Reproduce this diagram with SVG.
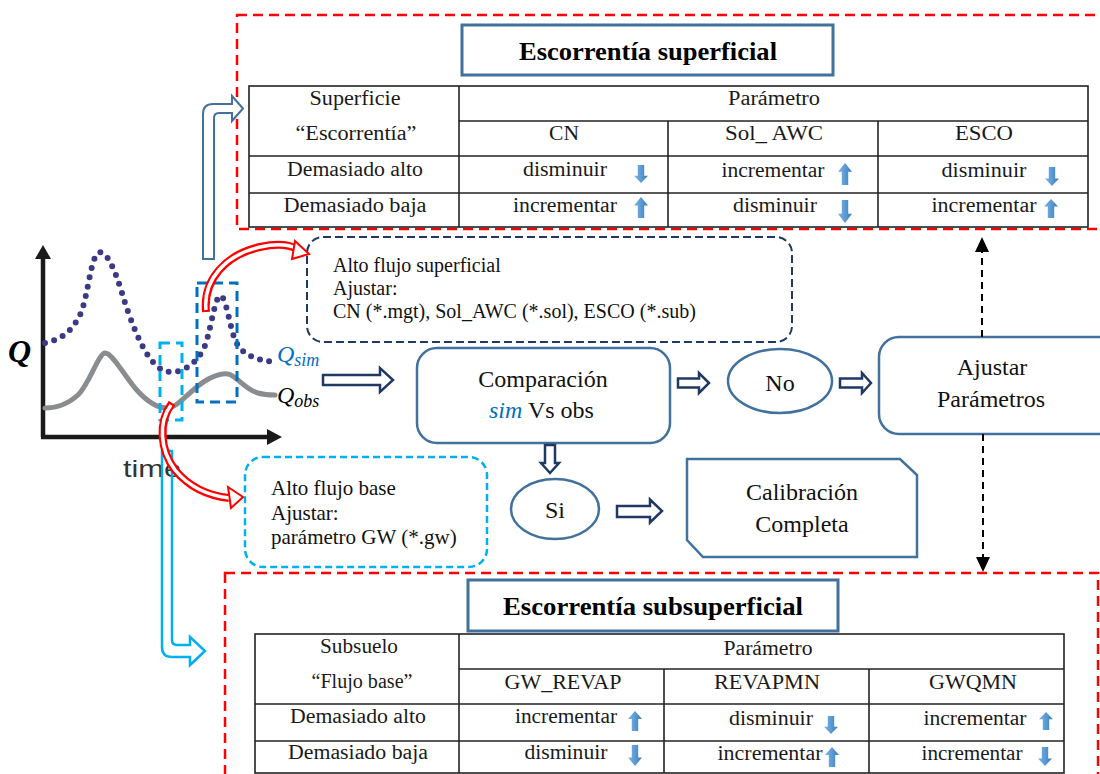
<svg xmlns="http://www.w3.org/2000/svg" width="1100" height="774" viewBox="0 0 1100 774">
  <defs>
    <style>
      .serif { font-family: "Liberation Serif", "Times New Roman", serif; fill: #111; }
      .cell { font-family: "Liberation Serif", "Times New Roman", serif; font-size: 20px; fill: #1a1a1a; text-anchor: middle; }
      .big { font-family: "Liberation Serif", "Times New Roman", serif; font-size: 24px; fill: #111; text-anchor: middle; }
      .title { font-family: "Liberation Serif", "Times New Roman", serif; font-size: 25px; font-weight: bold; fill: #000; text-anchor: middle; }
      .note { font-family: "Liberation Serif", "Times New Roman", serif; fill: #111; }
      .grid { stroke: #222; stroke-width: 1.6; fill: none; }
      .redbox { fill: none; stroke: #ff0000; stroke-width: 2.5; stroke-dasharray: 10 6; }
      .node { fill: #fff; stroke: #41719c; stroke-width: 2.5; }
      .titlebox { fill: #fff; stroke: #41719c; stroke-width: 3; }
      .flow { fill: #fff; stroke: #1f3864; stroke-width: 2.5; stroke-linejoin: miter; }
      .link { stroke: #000; stroke-width: 2; stroke-dasharray: 7 5; fill: none; }
      .redA { fill: none; stroke: #ff0000; stroke-width: 8; }
      .redB { fill: none; stroke: #fff; stroke-width: 3.5; }
      .redHead { fill: #fff; stroke: #ff0000; stroke-width: 2; stroke-linejoin: miter; }
    </style>
    <linearGradient id="blueGrad" x1="0" y1="0" x2="1" y2="0">
      <stop offset="0" stop-color="#7fb2e0"/>
      <stop offset="0.5" stop-color="#5b9bd5"/>
      <stop offset="1" stop-color="#3a78b8"/>
    </linearGradient>
    <path id="upArrow" d="M0,0 L7,8 L3.2,8 L3.2,20 L-3.2,20 L-3.2,8 L-7,8 Z" fill="url(#blueGrad)"/>
  </defs>

  <rect width="1100" height="774" fill="#fff"/>

  <!-- Red dashed frames -->
  <rect class="redbox" x="237" y="15" width="875" height="214"/>
  <rect class="redbox" x="225" y="573" width="873" height="220"/>

  <!-- Surface runoff panel -->
  <g id="surface-title">
    <rect class="titlebox" x="462" y="25" width="371" height="50"/>
    <text class="title" x="648" y="60" textLength="258" lengthAdjust="spacingAndGlyphs">Escorrentía superficial</text>
  </g>
  <g id="surface-table">
    <rect class="grid" x="249" y="86" width="839" height="141"/>
    <line class="grid" x1="459" y1="86" x2="459" y2="227"/>
    <line class="grid" x1="459" y1="121" x2="1088" y2="121"/>
    <line class="grid" x1="249" y1="156" x2="1088" y2="156"/>
    <line class="grid" x1="249" y1="193" x2="1088" y2="193"/>
    <line class="grid" x1="668" y1="121" x2="668" y2="227"/>
    <line class="grid" x1="878" y1="121" x2="878" y2="227"/>
    <text class="cell" x="355" y="105" textLength="91" lengthAdjust="spacingAndGlyphs">Superficie</text>
    <text class="cell" x="356" y="140" textLength="121" lengthAdjust="spacingAndGlyphs">“Escorrentía”</text>
    <text class="cell" x="774" y="105" textLength="92" lengthAdjust="spacingAndGlyphs">Parámetro</text>
    <text class="cell" x="564" y="140" textLength="30" lengthAdjust="spacingAndGlyphs">CN</text>
    <text class="cell" x="774" y="140" textLength="98" lengthAdjust="spacingAndGlyphs">Sol_ AWC</text>
    <text class="cell" x="984" y="140" textLength="58" lengthAdjust="spacingAndGlyphs">ESCO</text>
    <text class="cell" x="355" y="176" textLength="136" lengthAdjust="spacingAndGlyphs">Demasiado alto</text>
    <text class="cell" x="355" y="212" textLength="143" lengthAdjust="spacingAndGlyphs">Demasiado baja</text>
    <text class="cell" x="565" y="176" textLength="84" lengthAdjust="spacingAndGlyphs">disminuir</text>
    <text class="cell" x="565" y="212" textLength="104" lengthAdjust="spacingAndGlyphs">incrementar</text>
    <text class="cell" x="773" y="177" textLength="103" lengthAdjust="spacingAndGlyphs">incrementar</text>
    <text class="cell" x="775" y="212" textLength="84" lengthAdjust="spacingAndGlyphs">disminuir</text>
    <text class="cell" x="984" y="177" textLength="85" lengthAdjust="spacingAndGlyphs">disminuir</text>
    <text class="cell" x="984" y="212" textLength="105" lengthAdjust="spacingAndGlyphs">incrementar</text>
    <use href="#upArrow" transform="translate(641,183) scale(1,-0.9)"/>
    <use href="#upArrow" transform="translate(641,197) scale(1,1.05)"/>
    <use href="#upArrow" transform="translate(845,163) scale(1,1.1)"/>
    <use href="#upArrow" transform="translate(845,223) scale(1,-1.15)"/>
    <use href="#upArrow" transform="translate(1052,186) scale(1,-0.95)"/>
    <use href="#upArrow" transform="translate(1051,199) scale(1,0.95)"/>
  </g>

  <!-- Subsurface panel -->
  <g id="subsurface-title">
    <rect class="titlebox" x="468" y="580" width="370" height="51"/>
    <text class="title" x="653" y="615" textLength="300" lengthAdjust="spacingAndGlyphs">Escorrentía subsuperficial</text>
  </g>
  <g id="subsurface-table">
    <rect class="grid" x="255" y="634" width="809" height="139"/>
    <line class="grid" x1="459" y1="634" x2="459" y2="773"/>
    <line class="grid" x1="459" y1="669" x2="1064" y2="669"/>
    <line class="grid" x1="255" y1="704" x2="1064" y2="704"/>
    <line class="grid" x1="255" y1="741" x2="1064" y2="741"/>
    <line class="grid" x1="664" y1="669" x2="664" y2="773"/>
    <line class="grid" x1="869" y1="669" x2="869" y2="773"/>
    <text class="cell" x="359" y="653" textLength="78" lengthAdjust="spacingAndGlyphs">Subsuelo</text>
    <text class="cell" x="362" y="688" textLength="101" lengthAdjust="spacingAndGlyphs">“Flujo base”</text>
    <text class="cell" x="768" y="655" textLength="89" lengthAdjust="spacingAndGlyphs">Parámetro</text>
    <text class="cell" x="563" y="689" textLength="117" lengthAdjust="spacingAndGlyphs">GW_REVAP</text>
    <text class="cell" x="767" y="689" textLength="106" lengthAdjust="spacingAndGlyphs">REVAPMN</text>
    <text class="cell" x="973" y="689" textLength="88" lengthAdjust="spacingAndGlyphs">GWQMN</text>
    <text class="cell" x="358" y="723" textLength="136" lengthAdjust="spacingAndGlyphs">Demasiado alto</text>
    <text class="cell" x="358" y="759" textLength="140" lengthAdjust="spacingAndGlyphs">Demasiado baja</text>
    <text class="cell" x="566" y="723" textLength="102" lengthAdjust="spacingAndGlyphs">incrementar</text>
    <text class="cell" x="566" y="759" textLength="83" lengthAdjust="spacingAndGlyphs">disminuir</text>
    <text class="cell" x="771" y="725" textLength="84" lengthAdjust="spacingAndGlyphs">disminuir</text>
    <text class="cell" x="770" y="760" textLength="105" lengthAdjust="spacingAndGlyphs">incrementar</text>
    <text class="cell" x="975" y="725" textLength="103" lengthAdjust="spacingAndGlyphs">incrementar</text>
    <text class="cell" x="972" y="760" textLength="101" lengthAdjust="spacingAndGlyphs">incrementar</text>
    <use href="#upArrow" transform="translate(635,711) scale(1,1)"/>
    <use href="#upArrow" transform="translate(635,766) scale(1,-1.05)"/>
    <use href="#upArrow" transform="translate(831,734) scale(1,-0.9)"/>
    <use href="#upArrow" transform="translate(832,747) scale(1,1)"/>
    <use href="#upArrow" transform="translate(1046,712) scale(1,0.9)"/>
    <use href="#upArrow" transform="translate(1045,766) scale(1,-0.95)"/>
  </g>

  <!-- Hydrograph -->
  <g id="hydrograph">
    <line x1="43" y1="437" x2="43" y2="256" stroke="#1a1a1a" stroke-width="4.5"/>
    <polygon points="43,245 35,259 51,259" fill="#1a1a1a"/>
    <line x1="41" y1="437" x2="268" y2="437" stroke="#1a1a1a" stroke-width="4.5"/>
    <polygon points="282,437 267,429 267,445" fill="#1a1a1a"/>
    <path d="M45,408 C58,408 68,404 78,395 C90,383 98,354 105,353 C112,353 122,372 135,388 C147,402 158,408 167,408 C178,408 190,390 205,381 C215,375 222,373 228,374 C236,375 245,390 258,393 C265,395 270,395 275,395" fill="none" stroke="#8a8d8f" stroke-width="5" stroke-linecap="round"/>
    <path d="M45,343 C58,340 70,335 80,315 C88,298 90,260 98,253 C106,248 115,270 122,293 C130,320 142,350 153,362 C160,370 165,372 172,372 C182,372 195,365 203,350 C210,338 214,298 220,296 C226,294 230,330 236,342 C243,355 255,360 275,362" fill="none" stroke="#3d3a85" stroke-width="6" stroke-linecap="round" stroke-dasharray="0 9.5"/>
    <rect x="160" y="343" width="22" height="77" fill="none" stroke="#00b0f0" stroke-width="3" stroke-dasharray="10 6"/>
    <rect x="197" y="283" width="40" height="119" fill="none" stroke="#0070c0" stroke-width="3" stroke-dasharray="10 6"/>
    <text x="8" y="362" font-family="Liberation Serif, serif" font-size="32" font-weight="bold" font-style="italic" fill="#000">Q</text>
    <text x="277" y="362" font-family="Liberation Serif, serif" font-size="24" font-style="italic" fill="#0070c0">Q<tspan font-size="18" dy="4">sim</tspan></text>
    <text x="277" y="403" font-family="Liberation Serif, serif" font-size="24" font-style="italic" fill="#000">Q<tspan font-size="18" dy="4">obs</tspan></text>
    <text x="123" y="477" font-family="Liberation Sans, Arial, sans-serif" font-size="24" fill="#333" textLength="58" lengthAdjust="spacingAndGlyphs">time</text>
  </g>

  <!-- Note boxes -->
  <g id="note-surface">
    <rect x="307" y="237" width="485" height="105" rx="16" fill="#fff" stroke="#1f3864" stroke-width="2" stroke-dasharray="8 4"/>
    <text class="note" font-size="20" x="333" y="272">Alto flujo superficial</text>
    <text class="note" font-size="20" x="333" y="295">Ajustar:</text>
    <text class="note" font-size="20" x="333" y="318">CN (*.mgt), Sol_AWC (*.sol), ESCO (*.sub)</text>
  </g>
  <g id="note-base">
    <rect x="245" y="457" width="242" height="110" rx="18" fill="#fff" stroke="#00b0f0" stroke-width="2.5" stroke-dasharray="7 4"/>
    <text class="note" font-size="21" x="271" y="495">Alto flujo base</text>
    <text class="note" font-size="21" x="271" y="520">Ajustar:</text>
    <text class="note" font-size="21" x="271" y="544">parámetro GW (*.gw)</text>
  </g>

  <!-- Flow nodes -->
  <g id="compare">
    <rect class="node" x="417" y="348" width="253" height="95" rx="20"/>
    <text class="big" x="543" y="387">Comparación</text>
    <text class="serif" font-size="24" x="489" y="418"><tspan font-style="italic" fill="#0070c0">sim</tspan> Vs obs</text>
  </g>
  <g id="no">
    <ellipse class="node" cx="780" cy="381" rx="52" ry="32"/>
    <text class="big" x="780" y="391">No</text>
  </g>
  <g id="adjust">
    <rect class="node" x="879" y="337" width="240" height="97" rx="20"/>
    <text class="big" x="992" y="375">Ajustar</text>
    <text class="big" x="991" y="407">Parámetros</text>
  </g>
  <g id="si">
    <ellipse class="node" cx="555" cy="509" rx="44" ry="30"/>
    <text class="big" x="555" y="518">Si</text>
  </g>
  <g id="complete">
    <polygon class="node" points="687,459 900,459 917,475 917,557 703,557 687,540"/>
    <text class="big" x="802" y="500">Calibración</text>
    <text class="big" x="802" y="532">Completa</text>
  </g>

  <!-- Connectors -->
  <g id="connectors">
    <!-- block arrows -->
    <polygon class="flow" points="323,375 380,375 380,368 393,380 380,392 380,385 323,385"/>
    <polygon class="flow" points="678,378.5 699,378.5 699,373 709,383 699,393 699,387.5 678,387.5"/>
    <polygon class="flow" points="840,378.5 862,378.5 862,373 871,383 862,393 862,387.5 840,387.5"/>
    <polygon class="flow" points="545,445 555,445 555,463 559,463 550,473 541,463 545,463"/>
    <polygon class="flow" points="617,506 650,506 650,499.5 662,511 650,522.5 650,517 617,517"/>

    <!-- dashed links from Ajustar Parámetros -->
    <line class="link" x1="982" y1="337" x2="982" y2="251"/>
    <polygon points="982,237 975,252 989,252" fill="#000"/>
    <line class="link" x1="983" y1="434" x2="983" y2="558"/>
    <polygon points="983,572 976,557 990,557" fill="#000"/>

    <!-- bent hollow arrows from the hydrograph -->
    <path d="M203,259 L203,114 Q203,104 213,104 L232,104 L232,96 L243,108.5 L232,121 L232,113 L219,113 Q214,113 214,118 L214,259 Z" fill="#fff" stroke="#41719c" stroke-width="2"/>
    <path d="M162,451 L162,647 Q162,657 172,657 L190,657 L190,665 L205,651 L190,637 L190,645 L177,645 Q172,645 172,640 L172,451 Z" fill="none" stroke="#00b0f0" stroke-width="2.5"/>

    <!-- red curved hollow arrows -->
    <path class="redA" d="M206,312 C203,280 225,255 260,247 C278,243 290,245 297,249"/>
    <path class="redB" d="M206,310 C203,280 225,255 260,247 C278,243 290,245 298,249"/>
    <polygon class="redHead" points="309,254 295,241 292,259"/>
    <path class="redA" d="M172,403 C158,422 160,450 175,470 C190,488 210,496 229,498"/>
    <path class="redB" d="M171,405 C158,422 160,450 175,470 C190,488 210,496 230,498"/>
    <polygon class="redHead" points="243,497 228,487 231,508"/>
  </g>
</svg>
